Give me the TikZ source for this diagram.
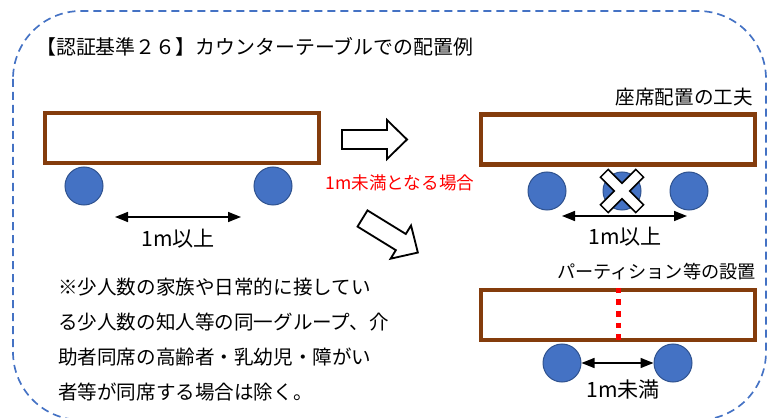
\documentclass[tikz,border=0pt]{standalone}
\usepackage{fontspec}
\setmainfont{Noto Sans CJK JP}
\usetikzlibrary{arrows.meta, positioning}

\definecolor{tablebrown}{HTML}{843C0C}
\definecolor{seatblue}{HTML}{4472C4}
\definecolor{seatedge}{HTML}{2F528F}
\definecolor{borderblue}{HTML}{4472C4}

\begin{document}
\begin{tikzpicture}[x=0.3mm, y=-0.3mm,
      % one unit is one pixel of the reference, y runs downwards
      table/.style={draw=tablebrown, line width=1.35mm, fill=white, minimum
      width=82.2mm, minimum height=15mm, inner sep=0pt},
      seat/.style={circle, draw=seatedge, line width=0.3mm, fill=seatblue,
      minimum size=11.4mm, inner sep=0pt},
      dimarrow/.style={{Triangle[length=3.9mm,width=3mm]}-{Triangle[length=3.9mm,width=3mm]},
      line width=0.45mm, black},
      dimlabel/.style={font=\fontsize{18pt}{20pt}\selectfont, inner sep=0pt},
      caption/.style={font=\fontsize{16.7pt}{20pt}\selectfont, inner sep=0pt},
      partition/.style={red, line width=1.5mm, dash pattern=on 1.7mm off 1.8mm},
      border/.style={borderblue, line width=0.5mm, dash pattern=on 2.4mm off
      1.5mm, rounded corners=20.4mm},
      blockarrow/.pic={\draw[line width=0.55mm, fill=white] (0,-9.5) --
      (45,-9.5) -- (45,-19.5) -- (65,0) -- (45,19.5) -- (45,9.5) -- (0,9.5) --
      cycle;},
      crossmark/.pic={\draw[line width=0.45mm, fill=white, rotate=45]
      (-5.5,-25) -- (5.5,-25) -- (5.5,-5.5) -- (25,-5.5) -- (25,5.5) --
      (5.5,5.5) -- (5.5,25) -- (-5.5,25) -- (-5.5,5.5) -- (-25,5.5) --
      (-25,-5.5) -- (-5.5,-5.5) -- cycle;} ]

    \useasboundingbox (0,0) rectangle (768,418);

    % Dashed frame
    \draw[border] (13,11) rectangle (766,420);

    % Title
    \node[anchor=west, font=\fontsize{17pt}{20pt}\selectfont, inner sep=0pt]
    (title) at (36,47) {【認証基準２６】カウンターテーブルでの配置例};

    % Left counter
    \node[table] (t1) at (182,138) {};
    \node[seat] (s1) at (84,186) {}; \node[seat] (s2) at (273,186) {};
    \coordinate (a1) at (115,217); \coordinate (a2) at (241,217);
    \draw[dimarrow] (a1) -- (a2);
    \node[dimlabel] (l1) at (178,239) {1m以上};

    % Block arrows
    \pic at (342,139.5) {blockarrow};
    \pic[rotate=-31.6] at (362.5,218.5) {blockarrow};
    \node[font=\fontsize{15pt}{18pt}\selectfont, text=red, inner sep=0pt]
    (case) at (400,183) {1m未満となる場合};

    % Seats moved apart
    \node[caption, anchor=east] (cap1) at (753,97) {座席配置の工夫};
    \node[table] (t2) at (618,139.5) {};
    \node[seat] (s3) at (547,191) {}; \node[seat] (s4) at (622,191) {};
    \node[seat] (s5) at (689,191) {};
    \pic at (s4) {crossmark};
    \coordinate (a3) at (562,216); \coordinate (a4) at (687,216);
    \draw[dimarrow] (a3) -- (a4);
    \node[dimlabel] (l2) at (625,237) {1m以上};

    % Partition
    \node[caption, anchor=east, font=\fontsize{15.5pt}{20pt}\selectfont]
    (cap2) at (756,272) {パーティション等の設置};
    \node[table] (t3) at (618,315) {};
    \draw[partition] (t3.north) -- (t3.south);
    \node[seat] (s6) at (562,363) {}; \node[seat] (s7) at (673,363) {};
    \draw[dimarrow] (s6) -- (s7);
    \node[dimlabel] (l3) at (623,389) {1m未満};

    % Note
    \node[anchor=west, align=left, inner sep=0pt,
    font=\fontsize{16.7pt}{29.9pt}\selectfont] (note) at (58,340)
    {※少人数の家族や日常的に接してい\\
    る少人数の知人等の同一グループ、介\\
    助者同席の高齢者・乳幼児・障がい\\
    者等が同席する場合は除く。};

\end{tikzpicture}
\end{document}
